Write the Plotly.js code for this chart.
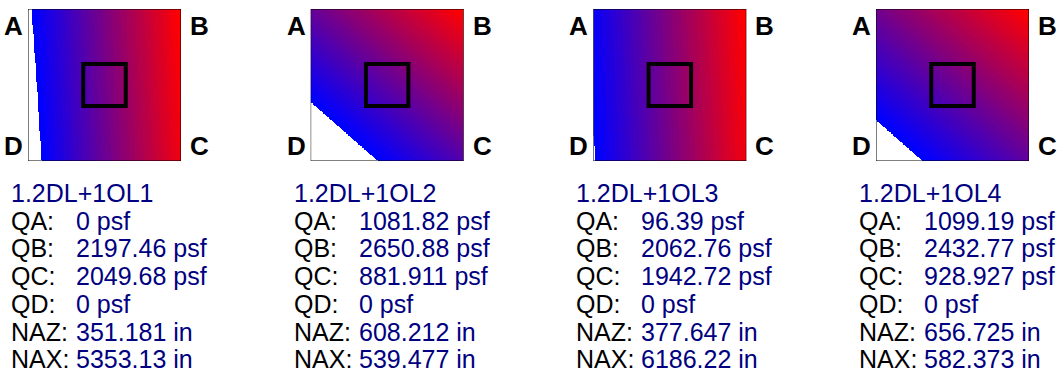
<!DOCTYPE html>
<html>
<head>
<meta charset="utf-8">
<script src="https://cdn.plot.ly/plotly-3.0.1.min.js"></script>
<style>html,body{margin:0;padding:0;background:#fff;}#chart{width:1063px;height:375px;}</style>
</head>
<body>
<div id="chart"></div>
<script>
// ---- data ----
var combos = ['1.2DL+1OL1', '1.2DL+1OL2', '1.2DL+1OL3', '1.2DL+1OL4'];
var QA = [0, 1081.82, 96.39, 1099.19];
var QB = [2197.46, 2650.88, 2062.76, 2432.77];
var QC = [2049.68, 881.911, 1942.72, 928.927];
var QD = [0, 0, 0, 0];
var NAZ = [351.181, 608.212, 377.647, 656.725];
var NAX = [5353.13, 539.477, 6186.22, 582.373];
var cornerLabels = ['A', 'B', 'C', 'D'];
var rowLabels = ['QA:', 'QB:', 'QC:', 'QD:', 'NAZ:', 'NAX:'];
var rowUnits = ['psf', 'psf', 'psf', 'psf', 'in', 'in'];

// ---- geometry / style ----
var W = 1063, H = 375;
var FOOT = 360;       // footing side (in)
var COL = 100;        // column side (in)
var SQ_L0 = 28, SQ_STEP = 282.67, SQ_W = 153, SQ_TOP = 9, SQ_H = 152;
var NBANDS = 32, NGRID = 240;
var NAVY = '#000080';
var FONT = 'Liberation Sans, Arial, sans-serif';
var TXT = 25, CORNER = 26;

function px(x) { return x / W; }
function py(y) { return 1 - y / H; }

function lerpColor(t) {
  var r = Math.round(255 * t), b = Math.round(255 * (1 - t));
  return 'rgb(' + r + ',0,' + b + ')';
}
var colorscale = [];
for (var i = 0; i < NBANDS; i++) {
  var c = lerpColor(i / (NBANDS - 1));
  colorscale.push([i / NBANDS, c]);
  colorscale.push([(i + 1) / NBANDS, c]);
}

var traces = [], shapes = [], annotations = [];
var layout = {
  width: W, height: H, margin: {l: 0, r: 0, t: 0, b: 0},
  paper_bgcolor: '#fff', plot_bgcolor: 'rgba(0,0,0,0)', showlegend: false
};

for (var p = 0; p < combos.length; p++) {
  var L = SQ_L0 + SQ_STEP * p;
  var sfx = p === 0 ? '' : String(p + 1);
  var xa = 'xaxis' + sfx, ya = 'yaxis' + sfx;
  layout[xa] = {domain: [px(L), px(L + SQ_W)], range: [0, FOOT], visible: false, fixedrange: true, anchor: 'y' + sfx};
  layout[ya] = {domain: [py(SQ_TOP + SQ_H), py(SQ_TOP)], range: [0, FOOT], visible: false, fixedrange: true, anchor: 'x' + sfx};

  // pressure plane from max corner B with neutral-axis intercepts
  var step = FOOT / NGRID, xs = [], ys = [], z = [];
  for (var j = 0; j < NGRID; j++) { xs.push((j + 0.5) * step); ys.push((j + 0.5) * step); }
  for (var r = 0; r < NGRID; r++) {
    var row = [], v = FOOT - ys[r];
    for (var c2 = 0; c2 < NGRID; c2++) {
      var u = FOOT - xs[c2];
      var q = QB[p] * (1 - u / NAZ[p] - v / NAX[p]);
      row.push(q >= 0 ? q : null);
    }
    z.push(row);
  }
  traces.push({
    type: 'heatmap', x: xs, y: ys, z: z, xaxis: 'x' + sfx, yaxis: 'y' + sfx,
    zmin: 0, zmax: QB[p], colorscale: colorscale, showscale: false,
    zsmooth: false, hoverinfo: 'skip'
  });

  shapes.push({type: 'rect', xref: 'x' + sfx, yref: 'y' + sfx, x0: 0, x1: FOOT, y0: 0, y1: FOOT,
    line: {color: '#000', width: 1}});
  var c0 = (FOOT - COL) / 2;
  shapes.push({type: 'rect', xref: 'x' + sfx, yref: 'y' + sfx, x0: c0, x1: c0 + COL, y0: c0, y1: c0 + COL,
    line: {color: '#000', width: 4}});

  // corner letters
  var cornerPos = [
    [L - 3, 'right', SQ_TOP + 17], [L + SQ_W + 7, 'left', SQ_TOP + 17],
    [L + SQ_W + 7, 'left', SQ_TOP + SQ_H - 15], [L - 3, 'right', SQ_TOP + SQ_H - 15]
  ];
  for (var k = 0; k < 4; k++) {
    annotations.push({xref: 'paper', yref: 'paper', x: px(cornerPos[k][0]), y: py(cornerPos[k][2]),
      xanchor: cornerPos[k][1], yanchor: 'middle', showarrow: false, text: '<b>' + cornerLabels[k] + '</b>',
      font: {family: FONT, size: CORNER, color: '#000'}});
  }

  // text block
  var vals = [QA[p], QB[p], QC[p], QD[p], NAZ[p], NAX[p]];
  var base0 = 201.7, lh = 27.7, mid = 8.6;
  annotations.push({xref: 'paper', yref: 'paper', x: px(L - 19), y: py(base0 - mid),
    xanchor: 'left', yanchor: 'middle', showarrow: false, text: combos[p],
    font: {family: FONT, size: TXT, color: NAVY}});
  for (var k2 = 0; k2 < rowLabels.length; k2++) {
    var yy = py(base0 + lh * (k2 + 1) - mid);
    annotations.push({xref: 'paper', yref: 'paper', x: px(L - 19), y: yy,
      xanchor: 'left', yanchor: 'middle', showarrow: false, text: rowLabels[k2],
      font: {family: FONT, size: TXT, color: '#000'}});
    annotations.push({xref: 'paper', yref: 'paper', x: px(L + 46), y: yy,
      xanchor: 'left', yanchor: 'middle', showarrow: false, text: String(vals[k2]) + ' ' + rowUnits[k2],
      font: {family: FONT, size: TXT, color: NAVY}});
  }
}
layout.shapes = shapes;
layout.annotations = annotations;

Plotly.newPlot('chart', traces, layout, {staticPlot: true, displayModeBar: false});
</script>
</body>
</html>
